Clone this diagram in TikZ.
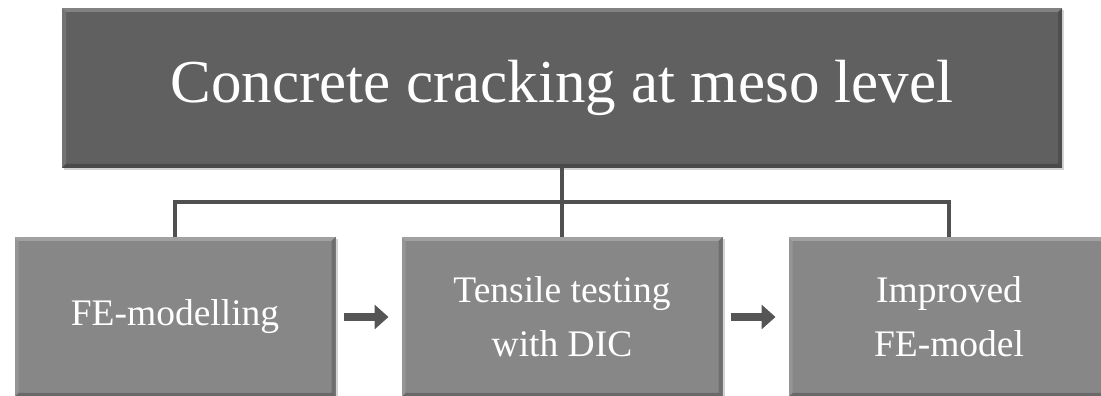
\documentclass[tikz,border=0pt]{standalone}
\usepackage{fontspec}
\setmainfont{Liberation Serif}
\usepackage{tikz}
\usetikzlibrary{positioning}
\usetikzlibrary{arrows.meta,shadows}

\definecolor{darkbox}{HTML}{606060}
\definecolor{lightbox}{HTML}{878787}
\definecolor{linkgray}{HTML}{505050}
\definecolor{arrowgray}{HTML}{555555}

\begin{document}
\begin{tikzpicture}[x=1pt, y=1pt,
bevel/.style={path picture={
  \fill[white, opacity=0.22] (path picture bounding box.north west) -- (path picture bounding box.north east)
    -- ([shift={(-4pt,-4pt)}]path picture bounding box.north east) -- ([shift={(4pt,-4pt)}]path picture bounding box.north west) -- cycle;
  \fill[white, opacity=0.12] (path picture bounding box.north west) -- (path picture bounding box.south west)
    -- ([shift={(4pt,4pt)}]path picture bounding box.south west) -- ([shift={(4pt,-4pt)}]path picture bounding box.north west) -- cycle;
  \fill[black, opacity=0.18] (path picture bounding box.south east) -- (path picture bounding box.north east)
    -- ([shift={(-4pt,-4pt)}]path picture bounding box.north east) -- ([shift={(-4pt,4pt)}]path picture bounding box.south east) -- cycle;
  \fill[black, opacity=0.22] (path picture bounding box.south west) -- (path picture bounding box.south east)
    -- ([shift={(-4pt,4pt)}]path picture bounding box.south east) -- ([shift={(4pt,4pt)}]path picture bounding box.south west) -- cycle;
}},
topbox/.style={rectangle, fill=darkbox, bevel, inner sep=0pt, outer sep=0pt,
  minimum width=1000pt, minimum height=160pt, text=white, font=\fontsize{61}{70}\selectfont,
  drop shadow={opacity=0.35, shadow xshift=2pt, shadow yshift=-2pt}},
lowbox/.style={rectangle, fill=lightbox, bevel, inner sep=0pt, outer sep=0pt,
  minimum width=321pt, minimum height=160pt, text=white, align=center,
  font=\fontsize{37.5}{54}\selectfont,
  drop shadow={opacity=0.35, shadow xshift=2pt, shadow yshift=-2pt}},
link/.style={draw=linkgray, line width=3.3pt},
nextarrow/.style={draw=arrowgray, line width=8pt, shorten <=8pt, shorten >=13pt,
  -{Triangle[length=14pt, width=24pt]}},
]

\useasboundingbox (0,0) rectangle (1101,396);

\node[topbox] (top) at (562,308) {Concrete cracking at meso level};

\node[lowbox] (dic) [below=69pt of top] {Tensile testing\\with DIC};
\node[lowbox] (fe) [left=66pt of dic] {FE-modelling};
\node[lowbox] (model) [right=66pt of dic] {Improved\\FE-model};

% tree connectors
\draw[link] (top.south) -- ++(0,-34) coordinate (bus);
\draw[link] (fe.north) |- (bus) -| (model.north);
\draw[link] (bus) -- (dic.north);

% sequence arrows
\draw[nextarrow] (fe.east) -- (dic.west);
\draw[nextarrow] (dic.east) -- (model.west);
\end{tikzpicture}
\end{document}
